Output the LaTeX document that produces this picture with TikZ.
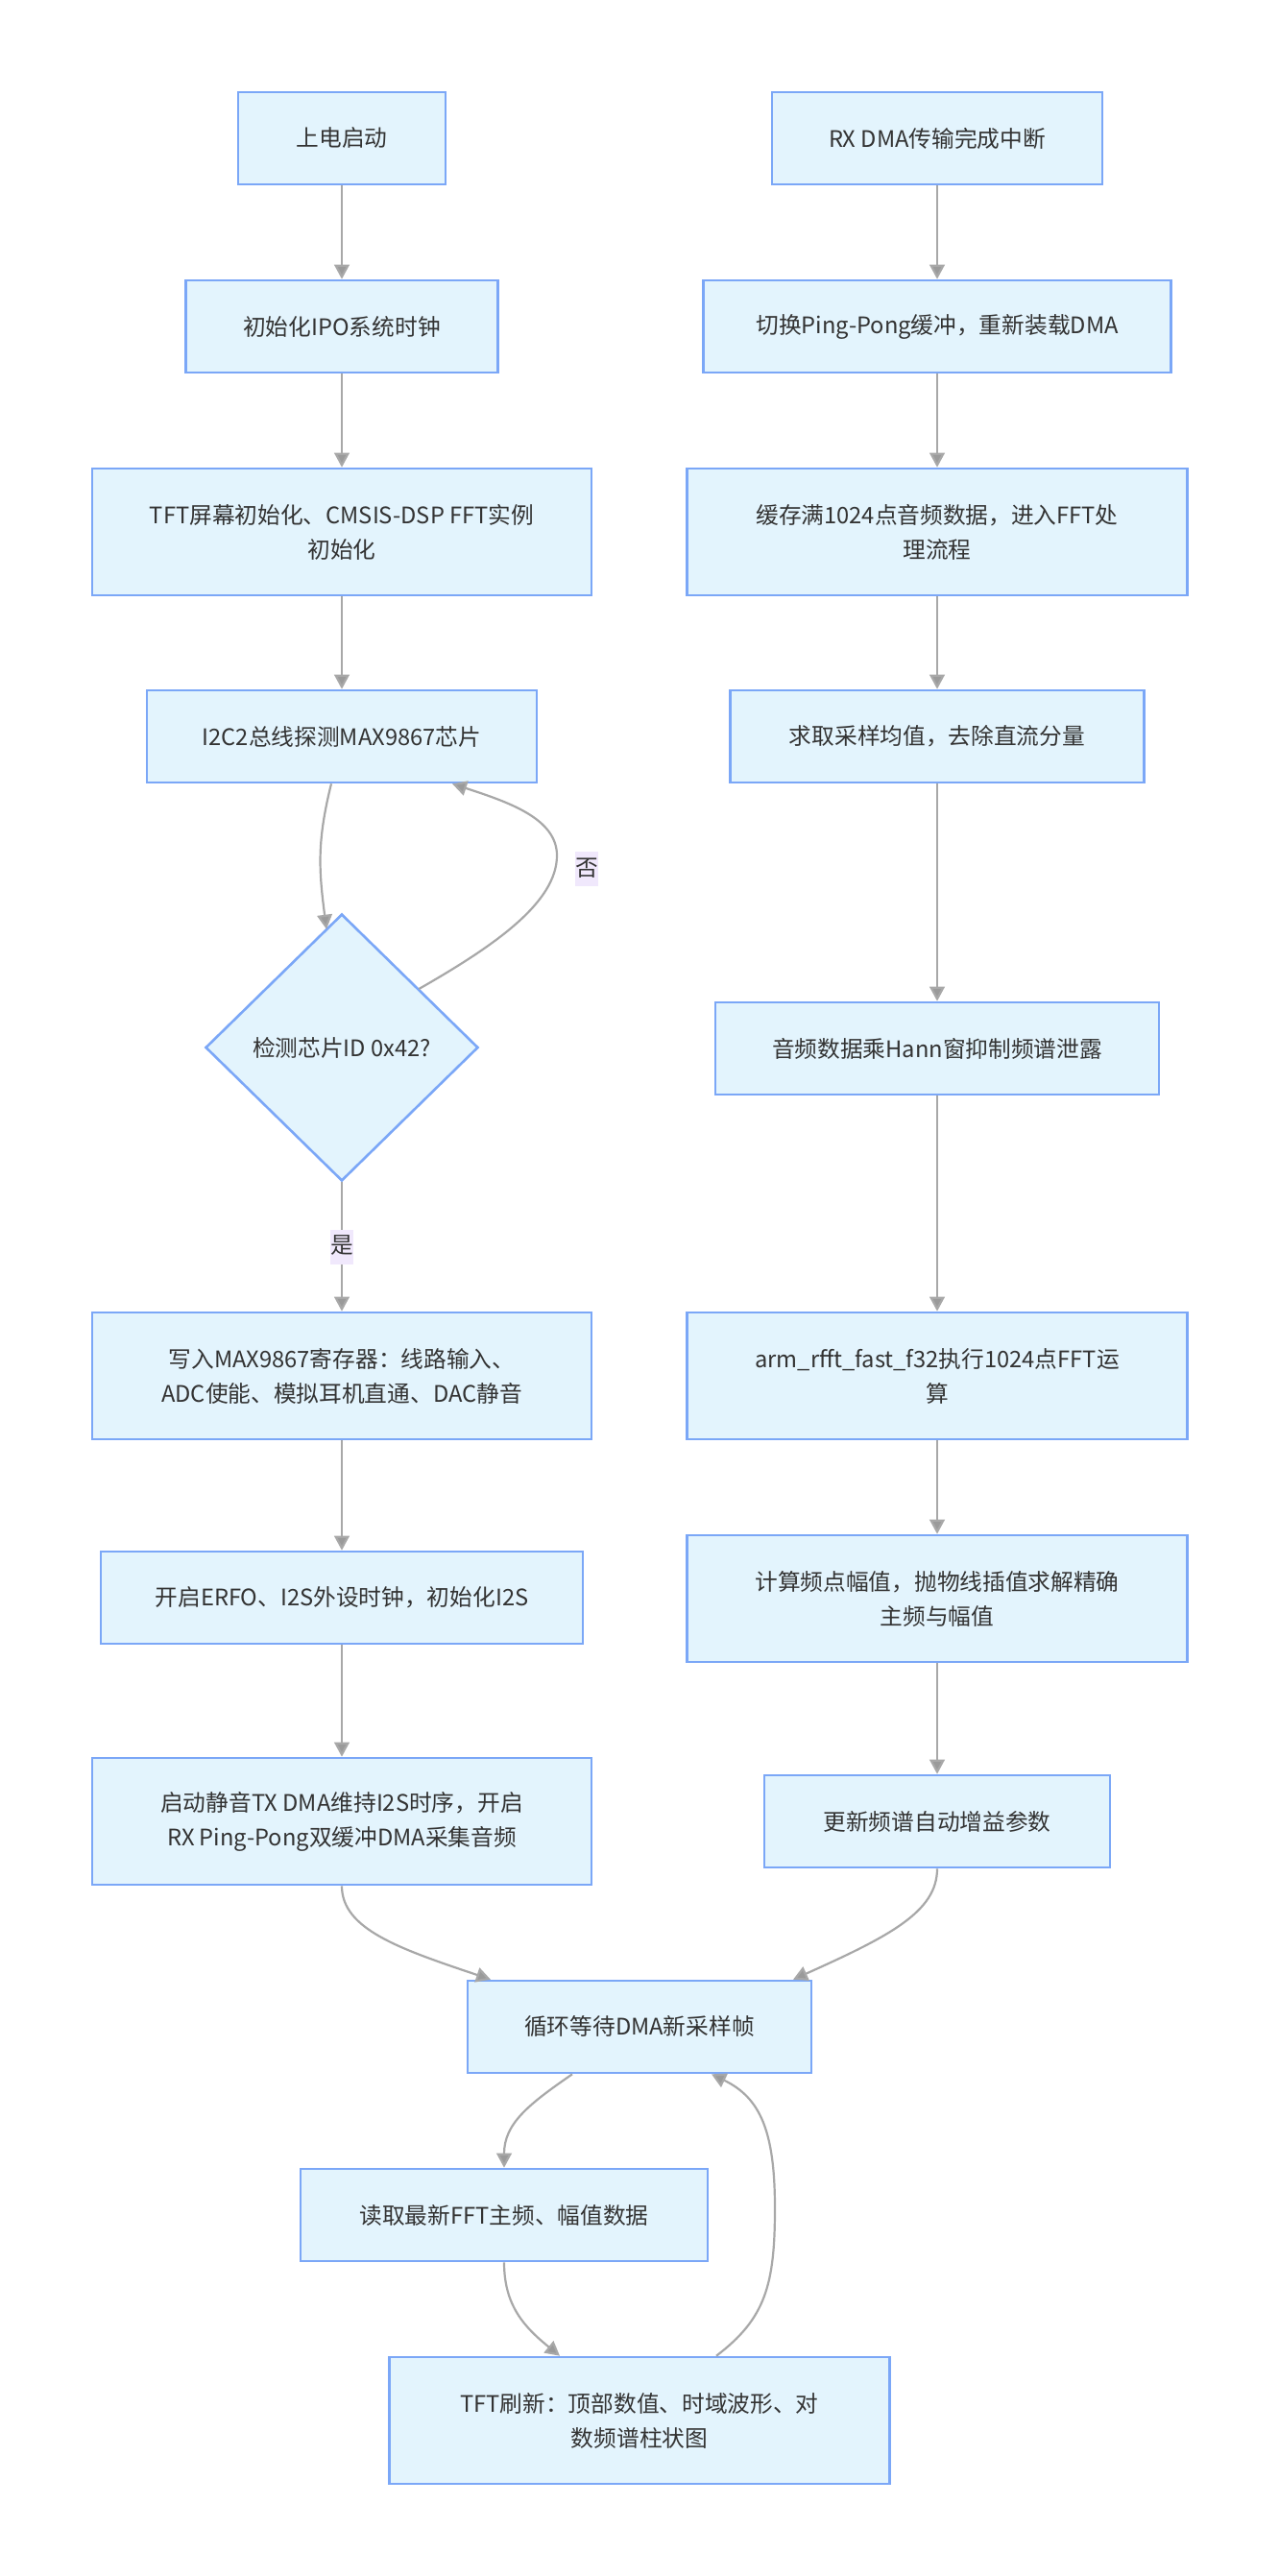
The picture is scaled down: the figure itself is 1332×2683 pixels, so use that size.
\documentclass[tikz,border=0pt]{standalone}
\usepackage{fontspec}
\setmainfont{Noto Sans CJK SC}
\usetikzlibrary{arrows.meta,shapes.geometric,calc}
\definecolor{boxfill}{HTML}{E3F4FD}
\definecolor{boxline}{HTML}{7BA7F7}
\definecolor{edgegray}{HTML}{A8A8A8}
\definecolor{tipgray}{HTML}{9A9A9A}
\definecolor{txt}{HTML}{333333}
\definecolor{lblbg}{HTML}{F0E8FC}
\begin{document}
\begin{tikzpicture}[x=0.5pt,y=-0.5pt,
  box/.style={draw=boxline, fill=boxfill, line width=1.3pt, inner sep=0pt, align=center, text=txt, font=\fontsize{11.85}{18}\selectfont},
  dec/.style={box, diamond},
  arr/.style={draw=edgegray, line width=1.1pt, -{Triangle[length=7.5pt,width=7.8pt,fill=tipgray]}},
  lbl/.style={fill=lblbg, text=txt, inner xsep=0.3pt, inner ysep=3pt, text height=9.5pt, text depth=2.5pt, font=\fontsize{11.85}{14}\selectfont}]
\fill[white] (0,0) rectangle (1332,2683);
\useasboundingbox (0,0) rectangle (1332,2683);

% left column
\node[box, minimum width=108pt, minimum height=48pt] (n1) at (356,144) {上电启动};
\node[box, minimum width=162.5pt, minimum height=48pt] (n2) at (356,340) {初始化IPO系统时钟};
\node[box, minimum width=260pt, minimum height=66pt] (n3) at (356,554) {TFT屏幕初始化、CMSIS-DSP FFT实例\\初始化};
\node[box, minimum width=203pt, minimum height=48pt] (n4) at (356,767) {I2C2总线探测MAX9867芯片};
\node[dec, minimum width=142pt, minimum height=139pt] (d) at (356,1091) {检测芯片ID 0x42?};
\node[box, minimum width=260pt, minimum height=66pt] (n5) at (356,1433) {写入MAX9867寄存器：线路输入、\\ADC使能、模拟耳机直通、DAC静音};
\node[box, minimum width=251pt, minimum height=48pt] (n6) at (356,1664) {开启ERFO、I2S外设时钟，初始化I2S};
\node[box, minimum width=260pt, minimum height=66pt] (n7) at (356,1897) {启动静音TX DMA维持I2S时序，开启\\RX Ping-Pong双缓冲DMA采集音频};

% right column
\node[box, minimum width=172pt, minimum height=48pt] (r1) at (976,144) {RX DMA传输完成中断};
\node[box, minimum width=243.5pt, minimum height=48pt] (r2) at (976,340) {切换Ping-Pong缓冲，重新装载DMA};
\node[box, minimum width=260.5pt, minimum height=66pt] (r3) at (976,554) {缓存满1024点音频数据，进入FFT处\\理流程};
\node[box, minimum width=215.5pt, minimum height=48pt] (r4) at (976,767) {求取采样均值，去除直流分量};
\node[box, minimum width=231pt, minimum height=48pt] (r5) at (976,1092) {音频数据乘Hann窗抑制频谱泄露};
\node[box, minimum width=260.5pt, minimum height=66pt] (r6) at (976,1433) {arm\_rfft\_fast\_f32执行1024点FFT运\\算};
\node[box, minimum width=260.5pt, minimum height=66pt] (r7) at (976,1665) {计算频点幅值，抛物线插值求解精确\\主频与幅值};
\node[box, minimum width=180pt, minimum height=48pt] (r8) at (976,1897) {更新频谱自动增益参数};

% bottom
\node[box, minimum width=179pt, minimum height=48pt] (b1) at (666,2111) {循环等待DMA新采样帧};
\node[box, minimum width=212pt, minimum height=48pt] (b2) at (525,2307) {读取最新FFT主频、幅值数据};
\node[box, minimum width=260.5pt, minimum height=66pt] (b3) at (666,2521) {TFT刷新：顶部数值、时域波形、对\\数频谱柱状图};

% straight edges
\draw[arr] (n1) -- (n2);
\draw[arr] (n2) -- (n3);
\draw[arr] (n3) -- (n4);
\draw[arr] (d.south) -- node[lbl] (lyes) {是} (n5.north);
\draw[arr] (n5) -- (n6);
\draw[arr] (n6) -- (n7);
\draw[arr] (r1) -- (r2);
\draw[arr] (r2) -- (r3);
\draw[arr] (r3) -- (r4);
\draw[arr] (r4) -- (r5);
\draw[arr] (r5) -- (r6);
\draw[arr] (r6) -- (r7);
\draw[arr] (r7) -- (r8);

% loop at the decision
\draw[arr] ($(n4.south)+(-11,0)$) .. controls ($(n4.south)+(-26,60)$) and ($(d.north)+(-24,-45)$) .. ($(d.north)+(-16,17)$);
\draw[arr] ($(d.east)+(-63,-61)$) .. controls (515,985) and (580,940) .. (580,891)
  .. controls (580,852) and (528,835) .. ($(n4.south)+(115,0)$);
\node[lbl] (lno) at (611,905) {否};

% bottom curves
\draw[arr] (n7.south) .. controls ($(n7.south)+(0,45)$) and ($(b1.north)+(-250,-32)$) .. ($(b1.north)+(-155,0)$);
\draw[arr] (r8.south) .. controls ($(r8.south)+(0,45)$) and ($(b1.north)+(260,-45)$) .. ($(b1.north)+(160,0)$);
\draw[arr] ($(b1.south)+(-70,0)$) .. controls (550,2192) and (525,2212) .. (b2.north);
\draw[arr] (b2.south) .. controls ($(b2.south)+(0,45)$) and ($(b3.north)+(-120,-30)$) .. ($(b3.north)+(-83,0)$);
\draw[arr] ($(b3.north)+(80,0)$) .. controls (797,2415) and (807,2380) .. (807,2300)
  .. controls (807,2220) and (792,2185) .. ($(b1.south)+(75,0)$);
\end{tikzpicture}
\end{document}
